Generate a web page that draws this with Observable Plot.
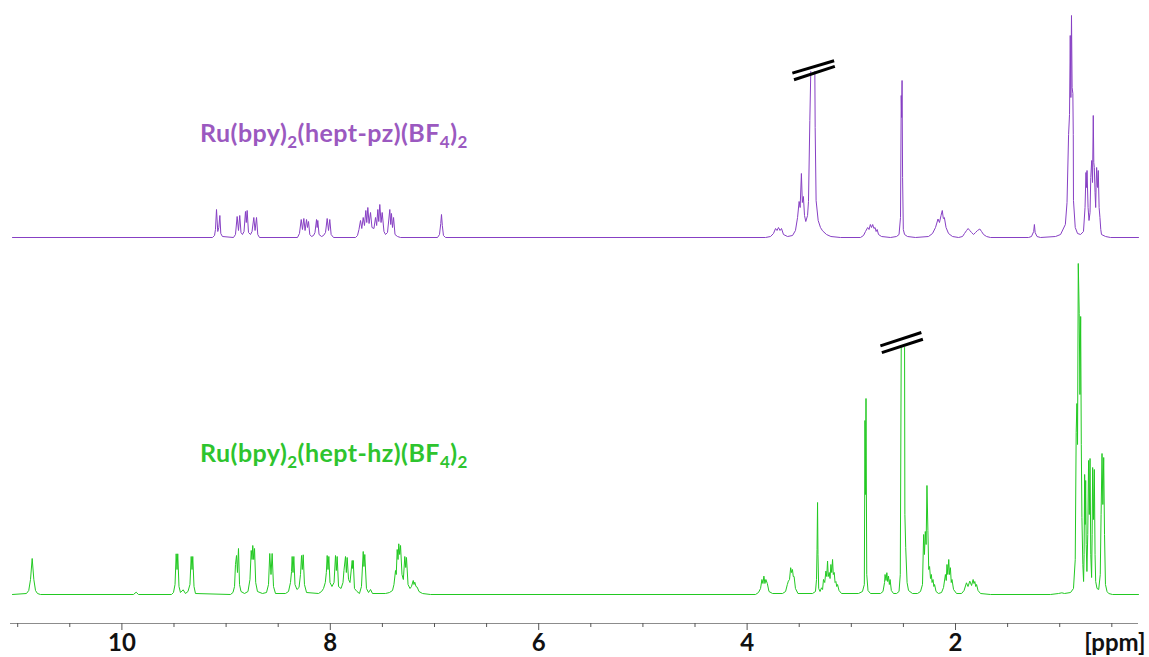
<!DOCTYPE html>
<html>
<head>
<meta charset="utf-8">
<script src="https://cdn.jsdelivr.net/npm/d3@7"></script>
<script src="https://cdn.jsdelivr.net/npm/@observablehq/plot@0.6"></script>
<style>
  html, body { margin: 0; padding: 0; background: #fff; }
  #chart { width: 1149px; height: 657px; position: relative; }
  #chart svg { display: block; }
</style>
</head>
<body>
<div id="chart"></div>
<script>
// ---------- data ----------
const ppmDomain = [11.069, 0.244];
const majorTicks = [10, 8, 6, 4, 2];
const minorTicks = [11, 10.5, 9.5, 9, 8.5, 7.5, 7, 6.5, 5.5, 5, 4.5, 3.5, 3, 2.5, 1.5, 1, 0.5];

// Ru(bpy)2(hept-pz)(BF4)2 spectrum: [ppm, intensity]; null intensity = clipped region
const pzSpectrum = [
  [11.050,0],[9.131,0],[9.111,2],[9.102,8],[9.092,28],[9.080,6],[9.070,10],[9.060,22],[9.051,4],[9.035,1],
  [8.929,0],[8.910,3],[8.894,21],[8.881,7],[8.869,22],[8.857,5],[8.843,3],[8.828,6],[8.814,26],[8.806,15],
  [8.798,27],[8.785,5],[8.766,3],[8.751,6],[8.734,20],[8.722,7],[8.708,20],[8.696,3],[8.679,0],
  [8.315,0],[8.296,4],[8.279,18],[8.267,8],[8.254,19],[8.242,7],[8.228,18],[8.219,10],[8.209,16],[8.197,3],
  [8.180,1],[8.161,2],[8.147,5],[8.132,18],[8.126,10],[8.120,17],[8.108,3],[8.084,1],[8.065,2],[8.046,5],
  [8.030,19],[8.017,7],[8.005,18],[7.992,3],[7.969,0],
  [7.758,0],[7.739,2],[7.725,8],[7.710,17],[7.698,9],[7.684,20],[7.672,12],[7.659,27],[7.650,15],[7.640,30],
  [7.628,14],[7.614,25],[7.600,10],[7.581,9],[7.566,20],[7.555,12],[7.544,28],[7.535,16],[7.525,33],[7.513,15],
  [7.502,25],[7.485,6],[7.470,3],[7.451,5],[7.429,28],[7.420,13],[7.413,24],[7.403,10],[7.393,20],[7.379,3],
  [7.355,1],[7.326,0],
  [6.971,0],[6.952,3],[6.940,14],[6.933,23],[6.925,12],[6.914,2],[6.894,0],
  [3.823,0],[3.775,1],[3.747,4],[3.727,9],[3.713,7],[3.699,10],[3.684,7],[3.670,9],[3.651,3],[3.612,1],
  [3.564,2],[3.536,7],[3.516,20],[3.501,36],[3.491,30],[3.479,64],[3.470,35],[3.460,41],[3.449,22],[3.437,16],
  [3.420,22],[3.411,36],[3.398,117],[3.389,166],[3.370,null],[3.350,166],[3.347,110],[3.338,37],[3.318,17],
  [3.296,10],[3.276,6.7],[3.238,3],[3.196,1],[3.104,0],
  [2.912,0],[2.883,2],[2.864,6],[2.843,10],[2.830,8],[2.817,13],[2.806,10],[2.795,13],[2.783,9],[2.772,10],
  [2.762,6],[2.752,8],[2.739,3],[2.710,1],[2.624,0],
  [2.566,1],[2.542,3],[2.528,20],[2.521,142],[2.517,120],[2.513,157],[2.508,60],[2.501,8],[2.489,3],[2.461,1],[2.384,0],
  [2.259,1],[2.221,4],[2.192,10],[2.168,18.5],[2.154,15],[2.139,22],[2.127,27],[2.117,19],[2.107,20],[2.091,10],
  [2.067,4],[2.029,1],[1.971,0],
  [1.933,1],[1.914,4],[1.894,7],[1.879,9],[1.863,7],[1.846,5],[1.827,3],[1.808,5],[1.789,7],[1.767,8.5],
  [1.750,6],[1.731,3],[1.702,1],[1.664,0],
  [1.299,0],[1.271,1],[1.250,6],[1.243,13],[1.236,5],[1.218,1],[1.184,0],
  [1.040,1],[0.992,3],[0.946,13],[0.930,35],[0.915,103],[0.906,123],[0.899,202],[0.893,140],[0.887,222],
  [0.881,150],[0.874,144],[0.870,103],[0.868,37],[0.851,10],[0.829,4],[0.800,3],
  [0.772,6],[0.757,30],[0.748,65],[0.743,50],[0.738,67],[0.728,30],[0.719,17],[0.709,25],[0.702,60],[0.693,77],
  [0.685,55],[0.678,122],[0.673,75],[0.668,70],[0.661,45],[0.655,30],[0.651,50],[0.646,70],[0.637,50],[0.630,67],
  [0.622,30],[0.614,20],[0.606,8],[0.599,3],[0.560,1],[0.512,0],[0.244,0]
];

// Ru(bpy)2(hept-hz)(BF4)2 spectrum: [ppm, intensity]
const hzSpectrum = [
  [11.050,0],[10.916,1],[10.894,4],[10.877,15],[10.861,36],[10.845,15],[10.829,4],[10.810,1],[10.781,0],
  [9.889,0],[9.863,2.3],[9.841,0],
  [9.524,0],[9.505,2],[9.490,10],[9.479,40.7],[9.471,25],[9.464,40.7],[9.452,8],[9.438,2],[9.412,4.7],[9.390,1],
  [9.366,3],[9.347,10],[9.335,38],[9.327,25],[9.320,38],[9.308,8],[9.294,1],
  [8.958,0],[8.934,2],[8.919,8],[8.910,30],[8.900,39],[8.891,22],[8.881,46],[8.871,10],[8.857,3],[8.823,1],
  [8.790,3],[8.771,15],[8.759,44],[8.751,35],[8.744,49],[8.735,35],[8.727,46],[8.716,12],[8.699,3],[8.651,1],
  [8.612,2],[8.593,10],[8.581,41],[8.569,20],[8.558,41],[8.545,8],[8.526,1],
  [8.430,1],[8.401,3],[8.382,12],[8.372,23],[8.366,38],[8.358,22],[8.350,38],[8.339,10],[8.320,5],[8.300,7],
  [8.286,20],[8.276,39],[8.269,25],[8.260,39.7],[8.248,10],[8.228,2],
  [8.113,1],[8.084,3],[8.065,6],[8.048,12],[8.038,22],[8.030,39],[8.022,25],[8.014,38],[8.003,12],[7.984,8],
  [7.964,12],[7.950,39],[7.942,24],[7.934,38],[7.921,8],[7.897,6],[7.878,12],[7.869,24],[7.854,38],[7.846,22],
  [7.838,37],[7.825,15],[7.811,12],[7.790,34],[7.785,26],[7.780,34],[7.768,6],[7.744,3],[7.720,1],
  [7.701,8],[7.684,43],[7.677,28],[7.669,40],[7.653,6],[7.633,2],[7.614,5],[7.595,1],
  [7.470,1],[7.432,2],[7.403,4],[7.389,10],[7.374,24],[7.367,20],[7.358,45],[7.350,35],[7.343,50.7],[7.334,40],
  [7.326,49],[7.312,20],[7.299,15],[7.285,38],[7.276,27],[7.269,37],[7.254,10],[7.235,6],[7.221,8],[7.204,14],
  [7.197,10],[7.189,12.3],[7.178,8],[7.166,7.3],[7.149,3],[7.115,1],[7.038,0],
  [3.919,0],[3.891,2],[3.871,6],[3.858,15],[3.848,11],[3.839,18.4],[3.829,11],[3.820,15],[3.806,11],[3.790,3],[3.756,1],
  [3.660,1],[3.631,3],[3.614,10],[3.604,13.4],[3.593,15],[3.582,26.8],[3.574,22],[3.565,25],[3.557,18],[3.549,18],
  [3.536,6],[3.512,1],
  [3.372,1],[3.344,3],[3.334,15],[3.329,45],[3.324,92],[3.320,40],[3.313,6],[3.300,3],
  [3.286,6.7],[3.276,5],[3.267,15],[3.255,12],[3.244,23.4],[3.236,18],[3.228,33.5],[3.221,18],[3.212,22],[3.204,16],
  [3.196,30],[3.188,22],[3.180,35],[3.173,20],[3.164,22],[3.156,12],[3.148,13],[3.140,8],[3.132,10],[3.118,4],[3.094,1],
  [2.931,1],[2.893,3],[2.875,10],[2.869,174],[2.864,100],[2.859,196],[2.852,20],[2.840,4],[2.816,1],
  [2.720,1],[2.696,3],[2.681,12],[2.676,20],[2.667,14],[2.659,21.8],[2.651,13],[2.643,18.4],[2.635,10],[2.628,15],
  [2.616,4],[2.595,1],
  [2.566,1],[2.542,3],[2.530,20],[2.521,247],[2.505,null],[2.489,247],[2.486,80],[2.478,47],[2.465,12],[2.451,4],[2.413,1],
  [2.365,1],[2.336,3],[2.317,10],[2.306,60],[2.298,40],[2.290,63],[2.282,50],[2.274,109],[2.265,64],[2.257,25],
  [2.249,28],[2.240,16],[2.232,20],[2.225,12],[2.216,15],[2.208,8],[2.201,10],[2.187,3],[2.163,1],
  [2.134,2],[2.115,7],[2.097,20],[2.089,14],[2.082,30],[2.074,20],[2.065,35],[2.058,20],[2.049,26.8],[2.041,12],
  [2.034,15],[2.019,5],[1.990,1],
  [1.942,1],[1.918,4],[1.895,11.7],[1.880,8],[1.863,13.4],[1.846,9],[1.831,15],[1.823,11],[1.815,13],[1.806,8],
  [1.798,10],[1.784,4],[1.760,1],[1.664,0],
  [1.088,0],[1.012,1],[0.980,1.7],[0.954,1],[0.896,2],[0.868,6],[0.851,35],[0.842,162],[0.835,191],[0.829,150],
  [0.822,331],[0.813,281],[0.806,200],[0.799,278],[0.793,150],[0.787,77],[0.778,30],[0.771,13],[0.766,40],[0.761,120],
  [0.756,70],[0.751,114],[0.746,50],[0.739,23],[0.731,60],[0.723,134],[0.716,80],[0.709,136],[0.702,40],[0.694,17],
  [0.689,60],[0.684,127],[0.676,75],[0.668,125],[0.661,40],[0.655,13],[0.642,6],[0.626,5],[0.611,20],[0.603,80],
  [0.594,141],[0.586,90],[0.578,137],[0.570,60],[0.561,10],[0.546,3],[0.530,1],[0.493,0],[0.244,0]
];

// break marks on clipped peaks: [ppm1, intensity1, ppm2, intensity2]
const pzBreaks = [[3.566,164.4,3.165,176.8],[3.550,157.7,3.158,171.1]];
const hzBreaks = [[2.721,248.6,2.328,262.0],[2.707,241.9,2.313,255.3]];

// compound labels: [text, ppm, intensity]
const pzLabel = [["Ru(bpy)2(hept-pz)(BF4)2", 9.25, 96]];
const hzLabel = [["Ru(bpy)2(hept-hz)(BF4)2", 9.25, 133]];
const axisUnit = ["[ppm]"];

// ---------- styles ----------
const purpleLine = "#8740c4", purpleText = "#9b59c0";
const greenLine = "#22c922", greenText = "#2ec42e";
const FONT = "Lato, 'Open Sans', sans-serif";

function subscriptify(svg) {
  const ns = "http://www.w3.org/2000/svg";
  svg.querySelectorAll("text").forEach(t => {
    const s = t.textContent;
    if (!/\(bpy\)/.test(s)) return;
    t.setAttribute("letter-spacing", "0.45");
    while (t.firstChild) t.removeChild(t.firstChild);
    let down = false;
    s.split(/(\d)/).forEach(part => {
      if (!part) return;
      const ts = document.createElementNS(ns, "tspan");
      ts.textContent = part;
      if (/^\d$/.test(part)) {
        ts.setAttribute("font-size", "17");
        if (!down) ts.setAttribute("dy", "6");
        down = true;
      } else if (down) {
        ts.setAttribute("dy", "-6");
        down = false;
      }
      t.appendChild(ts);
    });
  });
}

const chart = document.getElementById("chart");

// top panel
const topPlot = Plot.plot({
  width: 1149, height: 250,
  marginLeft: 10, marginRight: 11, marginTop: 0, marginBottom: 13,
  x: {domain: ppmDomain, axis: null},
  y: {domain: [0, 237], axis: null},
  style: {background: "transparent", fontFamily: FONT},
  marks: [
    Plot.line(pzSpectrum, {x: d => d[0], y: d => d[1], stroke: purpleLine, strokeWidth: 1}),
    Plot.link(pzBreaks, {x1: d => d[0], y1: d => d[1], x2: d => d[2], y2: d => d[3], stroke: "#000", strokeWidth: 3}),
    Plot.text(pzLabel, {x: d => d[1], y: d => d[2], text: d => d[0], textAnchor: "start", lineAnchor: "bottom",
      fill: purpleText, fontSize: 25, fontWeight: "bold", fontFamily: FONT})
  ]
});
subscriptify(topPlot);
chart.appendChild(topPlot);

// bottom panel
const hzY = [-29, 344];
const bottomPlot = Plot.plot({
  width: 1149, height: 407,
  marginLeft: 10, marginRight: 11, marginTop: 0, marginBottom: 34,
  x: {domain: ppmDomain},
  y: {domain: hzY, axis: null},
  style: {background: "transparent", fontFamily: FONT},
  marks: [
    Plot.ruleY([hzY[0]], {stroke: "#8c8c8c", strokeWidth: 1.2}),
    Plot.axisX(minorTicks, {tickSize: 4, text: null, stroke: "#555"}),
    Plot.axisX(majorTicks, {tickSize: 7, tickPadding: 3, stroke: "#555", fill: "#111",
      fontSize: 24, fontWeight: "bold", fontFamily: FONT, label: null, tickFormat: d => String(d)}),
    Plot.line(hzSpectrum, {x: d => d[0], y: d => d[1], stroke: greenLine, strokeWidth: 1}),
    Plot.link(hzBreaks, {x1: d => d[0], y1: d => d[1], x2: d => d[2], y2: d => d[3], stroke: "#000", strokeWidth: 3}),
    Plot.text(hzLabel, {x: d => d[1], y: d => d[2], text: d => d[0], textAnchor: "start", lineAnchor: "bottom",
      fill: greenText, fontSize: 25, fontWeight: "bold", fontFamily: FONT}),
    Plot.text(axisUnit, {frameAnchor: "bottom-right", dx: 7, dy: 27, textAnchor: "end", lineAnchor: "bottom",
      fill: "#111", fontSize: 24, fontWeight: "bold", fontFamily: FONT})
  ]
});
subscriptify(bottomPlot);
chart.appendChild(bottomPlot);
</script>
</body>
</html>
